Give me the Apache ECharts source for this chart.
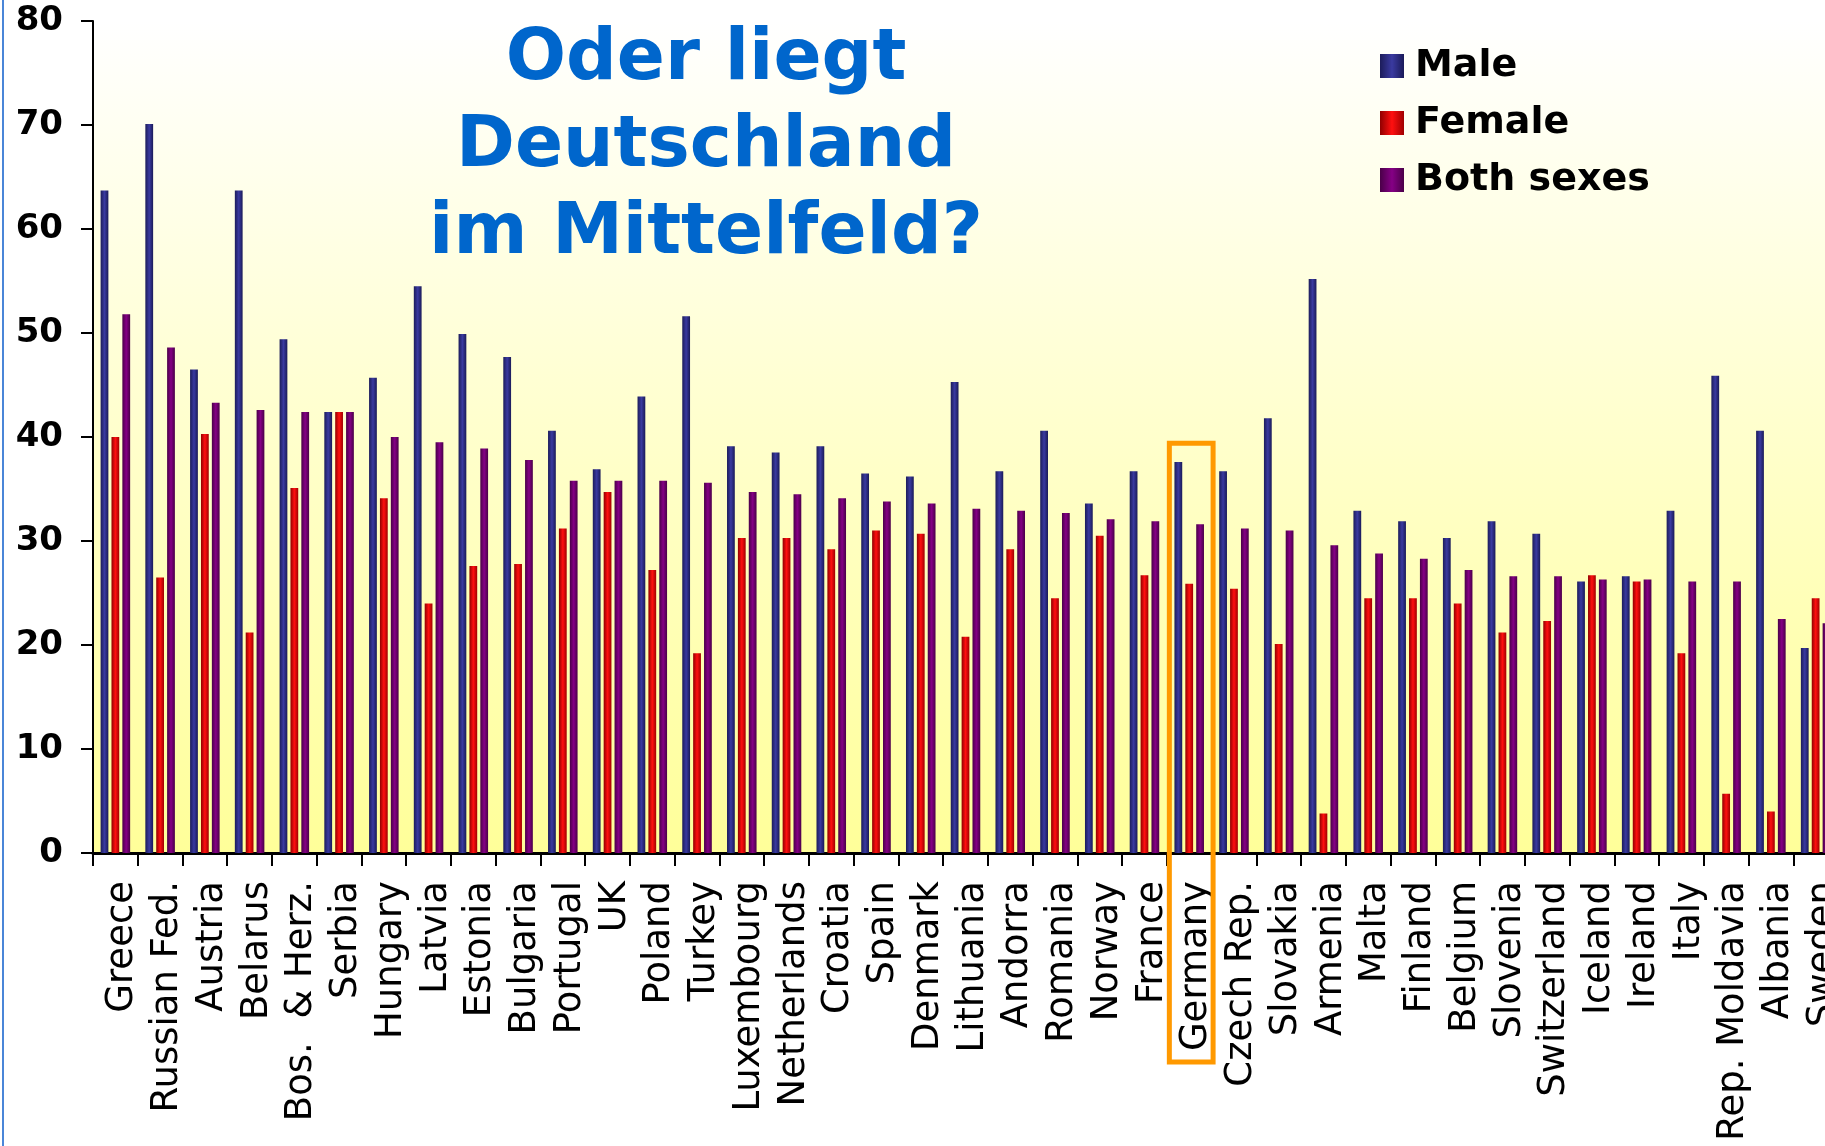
<!DOCTYPE html>
<html>
<head>
<meta charset="utf-8">
<script src="https://cdn.jsdelivr.net/npm/echarts@6/dist/echarts.min.js"></script>
<style>
  html, body { margin: 0; padding: 0; background: #fff; }
  #chart { width: 1825px; height: 1146px; }
</style>
</head>
<body>
<div id="chart"></div>
<script>
// Länder (sortiert nach "Both sexes")
const categories = ['Greece', 'Russian Fed.', 'Austria', 'Belarus', 'Bos.  & Herz.', 'Serbia', 'Hungary', 'Latvia',
  'Estonia', 'Bulgaria', 'Portugal', 'UK', 'Poland', 'Turkey', 'Luxembourg', 'Netherlands', 'Croatia', 'Spain',
  'Denmark', 'Lithuania', 'Andorra', 'Romania', 'Norway', 'France', 'Germany', 'Czech Rep.', 'Slovakia', 'Armenia',
  'Malta', 'Finland', 'Belgium', 'Slovenia', 'Switzerland', 'Iceland', 'Ireland', 'Italy', 'Rep. Moldavia',
  'Albania', 'Sweden']

const male = [63.7, 70.1, 46.5, 63.7, 49.4, 42.4, 45.7, 54.5, 49.9, 47.7, 40.6, 36.9, 43.9, 51.6, 39.1, 38.5,
  39.1, 36.5, 36.2, 45.3, 36.7, 40.6, 33.6, 36.7, 37.6, 36.7, 41.8, 55.2, 32.9, 31.9, 30.3, 31.9, 30.7, 26.1,
  26.6, 32.9, 45.9, 40.6, 19.7]

const female = [40.0, 26.5, 40.3, 21.2, 35.1, 42.4, 34.1, 24.0, 27.6, 27.8, 31.2, 34.7, 27.2, 19.2, 30.3, 30.3,
  29.2, 31.0, 30.7, 20.8, 29.2, 24.5, 30.5, 26.7, 25.9, 25.4, 20.1, 3.8, 24.5, 24.5, 24.0, 21.2, 22.3, 26.7,
  26.1, 19.2, 5.7, 4.0, 24.5]

const both = [51.8, 48.6, 43.3, 42.6, 42.4, 42.4, 40.0, 39.5, 38.9, 37.8, 35.8, 35.8, 35.8, 35.6, 34.7, 34.5,
  34.1, 33.8, 33.6, 33.1, 32.9, 32.7, 32.1, 31.9, 31.6, 31.2, 31.0, 29.6, 28.8, 28.3, 27.2, 26.6, 26.6, 26.3,
  26.3, 26.1, 26.1, 22.5, 22.1]

const highlight = 'Germany'

// Balken mit "Zylinder"-Schattierung
function shade(edge, mid, edge2) {
  return new echarts.graphic.LinearGradient(0, 0, 1, 0, [
    { offset: 0, color: edge },
    { offset: 0.5, color: mid },
    { offset: 1, color: edge2 }
  ])
}

const chart = echarts.init(document.getElementById('chart'))

const option = {
  animation: false,
  backgroundColor: '#ffffff',
  grid: {
    left: 93,
    top: 21,
    width: 1745,   // breiter als das Bild: Schweden ist im Original angeschnitten
    bottom: 293,
    outerBoundsMode: 'none',
    show: true,
    borderWidth: 0,
    backgroundColor: new echarts.graphic.LinearGradient(0, 0, 0, 1, [
      { offset: 0, color: '#ffffff' },
      { offset: 1, color: '#ffff99' }
    ])
  },
  legend: {
    orient: 'vertical',
    left: 1375,
    top: 42,
    icon: 'rect',
    itemWidth: 24,
    itemHeight: 24,
    itemGap: 19,
    textStyle: {
      fontFamily: 'DejaVu Sans',
      fontWeight: 'bold',
      fontSize: 38,
      lineHeight: 38,
      color: '#000',
      padding: [0, 0, 0, 6]
    },
    data: ['Male', 'Female', 'Both sexes']
  },
  xAxis: {
    type: 'category',
    data: categories,
    axisLine: { lineStyle: { color: '#000', width: 3 } },
    axisTick: { show: true, length: 13, lineStyle: { color: '#000', width: 2 } },
    axisLabel: {
      interval: 0,
      rotate: 90,
      margin: 28,
      verticalAlign: 'top',
      lineHeight: 15,
      fontFamily: 'DejaVu Sans',
      fontSize: 37,
      color: '#000'
    }
  },
  yAxis: {
    type: 'value',
    min: 0,
    max: 80,
    interval: 10,
    splitLine: { show: false },
    axisLine: { show: true, lineStyle: { color: '#000', width: 2 } },
    axisTick: { show: true, inside: false, length: 12, lineStyle: { color: '#000', width: 2 } },
    axisLabel: {
      margin: 30,
      fontFamily: 'DejaVu Sans',
      fontWeight: 'bold',
      fontSize: 34,
      color: '#000'
    }
  },
  series: [
    {
      name: 'Male',
      type: 'bar',
      data: male,
      barCategoryGap: '34%',
      barGap: '40%',
      itemStyle: { color: shade('#1c1c5a', '#3a3aa0', '#1a1a58') }
    },
    {
      name: 'Female',
      type: 'bar',
      data: female,
      itemStyle: { color: shade('#900000', '#ff1010', '#a00000') }
    },
    {
      name: 'Both sexes',
      type: 'bar',
      data: both,
      itemStyle: { color: shade('#4a0048', '#850085', '#4a0048') }
    }
  ]
}

chart.setOption(option)

// Titel + Markierung Deutschland (nach dem Layout berechnen)
const cx = chart.convertToPixel({ xAxisIndex: 0 }, highlight)
const band = chart.convertToPixel({ xAxisIndex: 0 }, categories[1]) - chart.convertToPixel({ xAxisIndex: 0 }, categories[0])
const boxTop = chart.convertToPixel({ yAxisIndex: 0 }, 39.4)

chart.setOption({
  graphic: [
    {
      type: 'rect',
      left: 2,
      top: 0,
      shape: { width: 2, height: 1146 },
      style: { fill: '#4a86d8' },
      silent: true
    },
    {
      type: 'text',
      x: 706,
      y: 17,
      style: {
        text: 'Oder liegt\nDeutschland\nim Mittelfeld?',
        font: 'bold 71px "DejaVu Sans"',
        fill: '#0066cc',
        align: 'center',
        verticalAlign: 'top',
        lineHeight: 87
      },
      silent: true
    },
    {
      type: 'rect',
      shape: { x: cx - band / 2 + 2.5, y: boxTop, width: band - 1, height: 1062 - boxTop },
      style: { fill: null, stroke: '#ff9900', lineWidth: 5 },
      silent: true,
      z: 10
    }
  ]
})
</script>
</body>
</html>
